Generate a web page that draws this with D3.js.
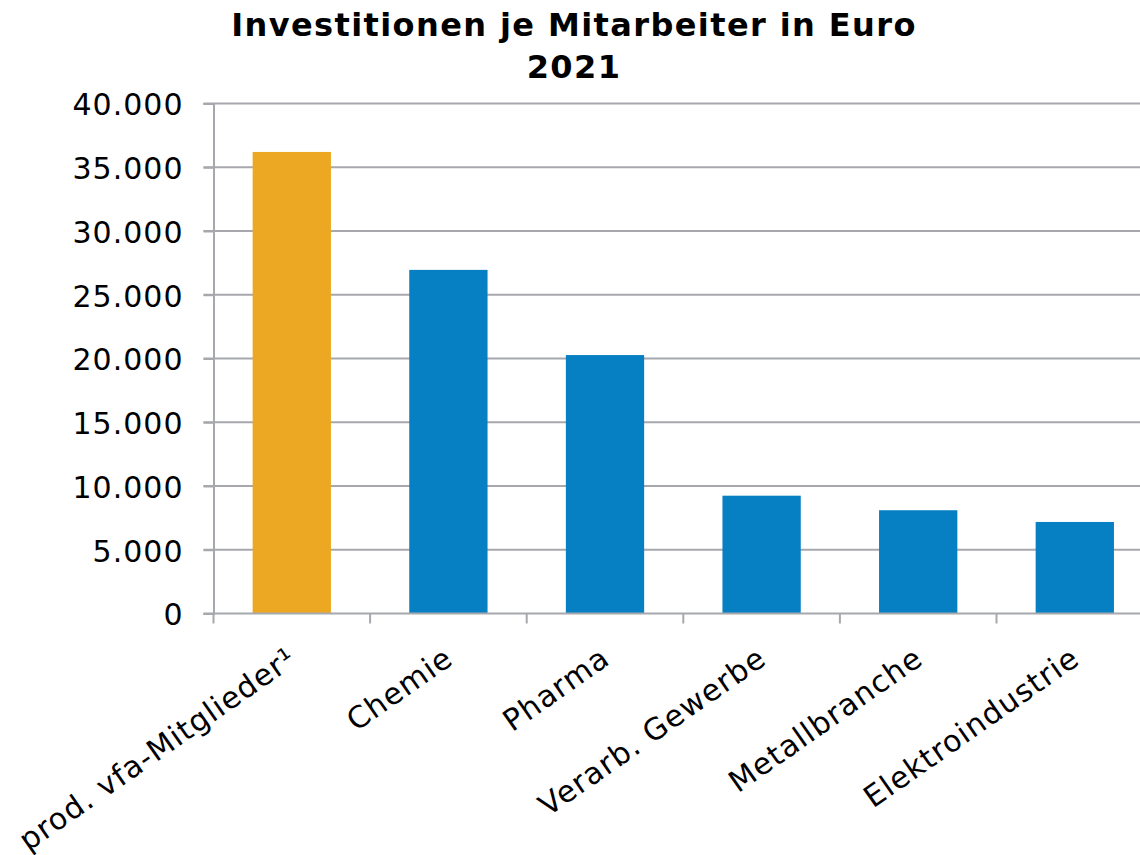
<!DOCTYPE html>
<html>
<head>
<meta charset="utf-8">
<script src="https://cdn.jsdelivr.net/npm/d3@7"></script>
<style>
  body { margin: 0; background: #fff; }
  svg { display: block; font-family: "DejaVu Sans", Verdana, sans-serif; }
</style>
</head>
<body>
<script>
// Data
var categories = ["prod. vfa-Mitglieder\u00b9", "Chemie", "Pharma", "Verarb. Gewerbe", "Metallbranche", "Elektroindustrie"];
var values = [36200, 26950, 20270, 9240, 8100, 7180];
var yTicks = [0, 5000, 10000, 15000, 20000, 25000, 30000, 35000, 40000];
var titleLines = ["Investitionen je Mitarbeiter in Euro", "2021"];

var width = 1140,
    height = 855;

var margin = { top: 103.5, left: 213.5, bottom: 241.5 };

var svg = d3.select("body").append("svg")
    .attr("width", width)
    .attr("height", height);

// Scales
var x = d3.scaleBand()
    .domain(categories)
    .range([margin.left, margin.left + 6 * 156.6])
    .paddingInner(0.5)
    .paddingOuter(0.25);

var y = d3.scaleLinear()
    .domain([0, 40000])
    .range([height - margin.bottom, margin.top]);

var fmt = function(d) { return d3.format(",")(d).replace(/,/g, "."); };

// gridlines
svg.append("g").attr("class", "grid")
    .selectAll("line")
      .data(yTicks.slice(1))
    .enter().append("line")
    .attr("x1", margin.left - 10)
    .attr("x2", width)
    .attr("y1", function(d) { return y(d); })
    .attr("y2", function(d) { return y(d); })
    .style("stroke", "#a6a8ad")
    .style("stroke-width", 2);

// bars
svg.append("g").attr("class", "bars")
    .selectAll("rect")
      .data(values)
    .enter().append("rect")
    .attr("x", function(d, i) { return x(categories[i]); })
    .attr("width", x.bandwidth())
    .attr("y", function(d) { return y(d); })
    .attr("height", function(d) { return y(0) - y(d); })
    .style("fill", function(d, i) { return i === 0 ? "#eca822" : "#0780c3"; });

// y axis
var yAxis = svg.append("g")
    .attr("transform", "translate(" + margin.left + ",0)")
    .call(d3.axisLeft(y).tickValues(yTicks).tickFormat(fmt).tickSize(10).tickPadding(20));
yAxis.select(".domain").style("stroke", "#a6a8ad").style("stroke-width", 2);
yAxis.selectAll(".tick line").style("stroke", "#a6a8ad").style("stroke-width", 2);
yAxis.selectAll("text")
    .style("font-family", "'DejaVu Sans', Verdana, sans-serif")
    .style("font-size", "30px")
    .style("letter-spacing", "1px")
    .style("fill", "#000")
    .attr("dy", "0.38em");

// x axis
var xAxis = svg.append("g")
    .attr("transform", "translate(0," + y(0) + ")");
xAxis.append("line")
    .attr("x1", margin.left - 10)
    .attr("x2", width)
    .style("stroke", "#a6a8ad")
    .style("stroke-width", 2);
xAxis.selectAll(".cat-tick")
    .data(d3.range(categories.length + 1))
  .enter().append("line")
    .attr("class", "cat-tick")
    .attr("x1", function(i) { return margin.left + i * x.step(); })
    .attr("x2", function(i) { return margin.left + i * x.step(); })
    .attr("y1", 0)
    .attr("y2", 10)
    .style("stroke", "#a6a8ad")
    .style("stroke-width", 2);

xAxis.selectAll(".cat-label")
    .data(categories)
  .enter().append("text")
    .attr("class", "cat-label")
    .attr("transform", function(d) {
        return "translate(" + (x(d) + x.bandwidth() / 2 - 6) + ",31) rotate(-35)";
    })
    .attr("text-anchor", "end")
    .attr("dy", "0.74em")
    .style("font-size", "30px")
    .style("letter-spacing", "1.1px")
    .style("fill", "#000")
    .text(function(d) { return d; });

// title
svg.append("g").attr("class", "title")
    .selectAll("text")
      .data(titleLines)
    .enter().append("text")
    .attr("x", 574)
    .attr("y", function(d, i) { return 36 + i * 42; })
    .attr("text-anchor", "middle")
    .style("font-size", "32px")
    .style("letter-spacing", "1.4px")
    .style("font-weight", "bold")
    .style("fill", "#000")
    .text(function(d) { return d; });
</script>
</body>
</html>
